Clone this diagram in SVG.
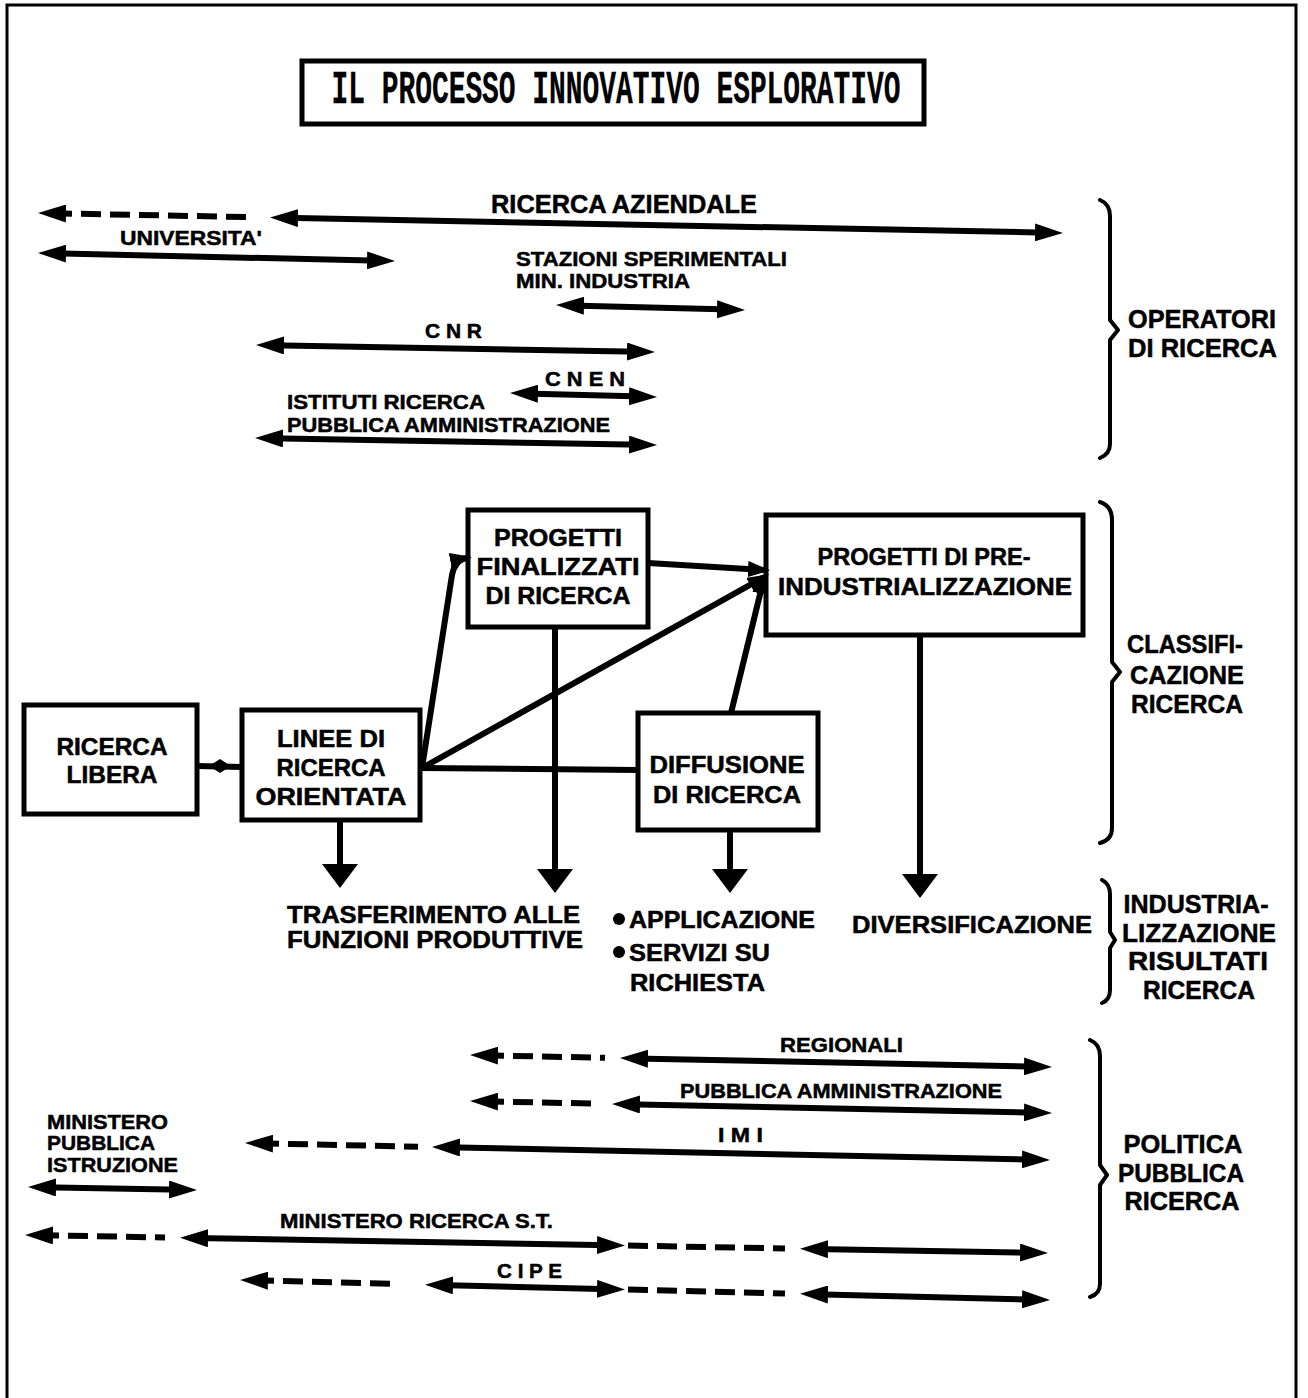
<svg xmlns="http://www.w3.org/2000/svg" width="1308" height="1398" viewBox="0 0 1308 1398">
  <defs>
    <style>
      text { font-family: "Liberation Sans", Arial, sans-serif; font-weight: bold; fill: #000; stroke: #000; stroke-width: 0.5; }
      .t25 { font-size: 25px; }
      .t21 { font-size: 21px; }
      .t23 { font-size: 23px; }
      .t26 { font-size: 26px; }
      .title { font-family: "Liberation Mono", "DejaVu Sans Mono", monospace; font-size: 46px; stroke-width: 0.3; }
      .box { fill: #fff; stroke: #000; stroke-width: 5; }
      .arr { stroke: #000; stroke-width: 6; fill: none; }
      .dash { stroke: #000; stroke-width: 6; fill: none; stroke-dasharray: 20 9; }
      .link { stroke: #000; stroke-width: 6; fill: none; }
      .brace { stroke: #000; stroke-width: 4; fill: none; stroke-linejoin: round; stroke-linecap: round; }
    </style>
    <!-- slim head for the long horizontal range arrows -->
    <marker id="ah" viewBox="0 0 28 18" refX="14" refY="9" markerWidth="28" markerHeight="18" markerUnits="userSpaceOnUse" orient="auto-start-reverse">
      <path d="M0,0 L28,9 L0,18 Z" fill="#000"/>
    </marker>
    <!-- medium head for links between boxes -->
    <marker id="mh" viewBox="0 0 22 16" refX="16" refY="8" markerWidth="22" markerHeight="16" markerUnits="userSpaceOnUse" orient="auto">
      <path d="M0,0 L22,8 L0,16 Z" fill="#000"/>
    </marker>
    <!-- large head for the downward outputs -->
    <marker id="bh" viewBox="0 0 24 36" refX="2" refY="18" markerWidth="24" markerHeight="36" markerUnits="userSpaceOnUse" orient="auto">
      <path d="M0,0 L24,18 L0,36 Z" fill="#000"/>
    </marker>
  </defs>

  <rect width="1308" height="1398" fill="#fff"/>
  <!-- page frame -->
  <path d="M7,1398 V5 H1296 V1398" fill="none" stroke="#000" stroke-width="3"/>

  <g id="title">
    <rect x="302" y="61" width="622" height="63" class="box"/>
    <text class="title" x="616" y="103" text-anchor="middle" textLength="569" lengthAdjust="spacingAndGlyphs">IL PROCESSO INNOVATIVO ESPLORATIVO</text>
  </g>

  <!-- ranges of the research operators -->
  <g id="operatori">
    <text class="t25" x="491" y="213" textLength="266" lengthAdjust="spacingAndGlyphs">RICERCA AZIENDALE</text>
    <text class="t21" x="120" y="245" textLength="142" lengthAdjust="spacingAndGlyphs">UNIVERSITA'</text>
    <text class="t21" x="516" y="266" textLength="271" lengthAdjust="spacingAndGlyphs">STAZIONI SPERIMENTALI</text>
    <text class="t21" x="516" y="288" textLength="174" lengthAdjust="spacingAndGlyphs">MIN. INDUSTRIA</text>
    <text class="t21" x="425" y="338" textLength="57" lengthAdjust="spacingAndGlyphs">C N R</text>
    <text class="t21" x="545" y="386" textLength="80" lengthAdjust="spacingAndGlyphs">C N E N</text>
    <text class="t21" x="287" y="409" textLength="198" lengthAdjust="spacingAndGlyphs">ISTITUTI RICERCA</text>
    <text class="t21" x="287" y="432" textLength="323" lengthAdjust="spacingAndGlyphs">PUBBLICA AMMINISTRAZIONE</text>
  </g>

  <g id="label-operatori">
    <text class="t26" x="1128" y="328" textLength="148" lengthAdjust="spacingAndGlyphs">OPERATORI</text>
    <text class="t26" x="1128" y="357" textLength="149" lengthAdjust="spacingAndGlyphs">DI RICERCA</text>
  </g>

  <!-- classification boxes -->
  <g id="ricerca-libera">
    <rect x="24" y="705" width="173" height="109" class="box"/>
    <text class="t23" x="112" y="755" text-anchor="middle" textLength="111" lengthAdjust="spacingAndGlyphs">RICERCA</text>
    <text class="t23" x="112" y="783" text-anchor="middle" textLength="91" lengthAdjust="spacingAndGlyphs">LIBERA</text>
  </g>
  <g id="linee-ricerca">
    <rect x="242" y="710" width="178" height="110" class="box"/>
    <text class="t23" x="331" y="747" text-anchor="middle" textLength="108" lengthAdjust="spacingAndGlyphs">LINEE DI</text>
    <text class="t23" x="331" y="776" text-anchor="middle" textLength="109" lengthAdjust="spacingAndGlyphs">RICERCA</text>
    <text class="t23" x="331" y="805" text-anchor="middle" textLength="151" lengthAdjust="spacingAndGlyphs">ORIENTATA</text>
  </g>
  <g id="progetti-finalizzati">
    <rect x="468" y="510" width="180" height="117" class="box"/>
    <text class="t23" x="558" y="546" text-anchor="middle" textLength="128" lengthAdjust="spacingAndGlyphs">PROGETTI</text>
    <text class="t23" x="558" y="575" text-anchor="middle" textLength="163" lengthAdjust="spacingAndGlyphs">FINALIZZATI</text>
    <text class="t23" x="558" y="604" text-anchor="middle" textLength="145" lengthAdjust="spacingAndGlyphs">DI RICERCA</text>
  </g>
  <g id="pre-industrializzazione">
    <rect x="766" y="515" width="317" height="120" class="box"/>
    <text class="t23" x="924" y="565" text-anchor="middle" textLength="213" lengthAdjust="spacingAndGlyphs">PROGETTI DI PRE-</text>
    <text class="t23" x="925" y="595" text-anchor="middle" textLength="294" lengthAdjust="spacingAndGlyphs">INDUSTRIALIZZAZIONE</text>
  </g>
  <g id="diffusione">
    <rect x="638" y="713" width="180" height="117" class="box"/>
    <text class="t23" x="727" y="773" text-anchor="middle" textLength="155" lengthAdjust="spacingAndGlyphs">DIFFUSIONE</text>
    <text class="t23" x="727" y="803" text-anchor="middle" textLength="148" lengthAdjust="spacingAndGlyphs">DI RICERCA</text>
  </g>

  <g id="label-classificazione">
    <text class="t26" x="1185" y="653" text-anchor="middle" textLength="116" lengthAdjust="spacingAndGlyphs">CLASSIFI-</text>
    <text class="t26" x="1187" y="684" text-anchor="middle" textLength="114" lengthAdjust="spacingAndGlyphs">CAZIONE</text>
    <text class="t26" x="1187" y="713" text-anchor="middle" textLength="112" lengthAdjust="spacingAndGlyphs">RICERCA</text>
  </g>

  <!-- outputs of the research results -->
  <g id="trasferimento">
    <text class="t23" x="287" y="923" textLength="293" lengthAdjust="spacingAndGlyphs">TRASFERIMENTO ALLE</text>
    <text class="t23" x="287" y="948" textLength="296" lengthAdjust="spacingAndGlyphs">FUNZIONI PRODUTTIVE</text>
  </g>
  <g id="applicazione">
    <circle cx="619" cy="919" r="6" fill="#000"/>
    <text class="t23" x="629" y="928" textLength="186" lengthAdjust="spacingAndGlyphs">APPLICAZIONE</text>
    <circle cx="619" cy="952" r="6" fill="#000"/>
    <text class="t23" x="629" y="961" textLength="141" lengthAdjust="spacingAndGlyphs">SERVIZI SU</text>
    <text class="t23" x="630" y="991" textLength="135" lengthAdjust="spacingAndGlyphs">RICHIESTA</text>
  </g>
  <g id="diversificazione">
    <text class="t23" x="852" y="933" textLength="240" lengthAdjust="spacingAndGlyphs">DIVERSIFICAZIONE</text>
  </g>
  <g id="label-industrializzazione">
    <text class="t26" x="1196" y="913" text-anchor="middle" textLength="145" lengthAdjust="spacingAndGlyphs">INDUSTRIA-</text>
    <text class="t26" x="1199" y="942" text-anchor="middle" textLength="154" lengthAdjust="spacingAndGlyphs">LIZZAZIONE</text>
    <text class="t26" x="1198" y="970" text-anchor="middle" textLength="140" lengthAdjust="spacingAndGlyphs">RISULTATI</text>
    <text class="t26" x="1199" y="999" text-anchor="middle" textLength="112" lengthAdjust="spacingAndGlyphs">RICERCA</text>
  </g>

  <!-- ranges of public research policy -->
  <g id="politica">
    <text class="t21" x="780" y="1052" textLength="123" lengthAdjust="spacingAndGlyphs">REGIONALI</text>
    <text class="t21" x="680" y="1098" textLength="322" lengthAdjust="spacingAndGlyphs">PUBBLICA AMMINISTRAZIONE</text>
    <text class="t21" x="718" y="1142" textLength="45" lengthAdjust="spacingAndGlyphs">I M I</text>
    <text class="t21" x="47" y="1129" textLength="121" lengthAdjust="spacingAndGlyphs">MINISTERO</text>
    <text class="t21" x="47" y="1150" textLength="108" lengthAdjust="spacingAndGlyphs">PUBBLICA</text>
    <text class="t21" x="47" y="1172" textLength="131" lengthAdjust="spacingAndGlyphs">ISTRUZIONE</text>
    <text class="t21" x="280" y="1228" textLength="273" lengthAdjust="spacingAndGlyphs">MINISTERO RICERCA S.T.</text>
    <text class="t21" x="497" y="1278" textLength="65" lengthAdjust="spacingAndGlyphs">C I P E</text>
  </g>
  <g id="label-politica">
    <text class="t26" x="1183" y="1153" text-anchor="middle" textLength="119" lengthAdjust="spacingAndGlyphs">POLITICA</text>
    <text class="t26" x="1181" y="1182" text-anchor="middle" textLength="126" lengthAdjust="spacingAndGlyphs">PUBBLICA</text>
    <text class="t26" x="1182" y="1210" text-anchor="middle" textLength="115" lengthAdjust="spacingAndGlyphs">RICERCA</text>
  </g>

  <g id="connectors">
    <!-- operators -->
    <line class="dash" x1="52" y1="213.3" x2="255" y2="217.2" marker-start="url(#ah)"/>
    <line class="arr" x1="284" y1="217.8" x2="1049" y2="232.7" marker-start="url(#ah)" marker-end="url(#ah)"/>
    <line class="arr" x1="52" y1="253.3" x2="381" y2="260.7" marker-start="url(#ah)" marker-end="url(#ah)"/>
    <line class="arr" x1="570" y1="305.4" x2="731" y2="309.6" marker-start="url(#ah)" marker-end="url(#ah)"/>
    <line class="arr" x1="270" y1="345.2" x2="641" y2="351.8" marker-start="url(#ah)" marker-end="url(#ah)"/>
    <line class="arr" x1="524" y1="393.4" x2="643" y2="396.6" marker-start="url(#ah)" marker-end="url(#ah)"/>
    <line class="arr" x1="269" y1="438.2" x2="643" y2="444.8" marker-start="url(#ah)" marker-end="url(#ah)"/>

    <!-- links between boxes -->
    <line class="link" x1="197" y1="766" x2="242" y2="767"/>
    <path d="M209,766 L220,759 L231,766 L220,773 Z" fill="#000"/>
    <path class="link" d="M422,768 L452,575 Q455,560 466,558" marker-end="url(#mh)"/>
    <line class="link" x1="422" y1="768" x2="764" y2="577" marker-end="url(#mh)"/>
    <line class="link" x1="420" y1="768" x2="638" y2="770"/>
    <line class="link" x1="648" y1="563" x2="764" y2="570" marker-end="url(#mh)"/>
    <line class="link" x1="731" y1="713" x2="764" y2="578" marker-end="url(#mh)"/>

    <!-- downward outputs -->
    <line class="link" x1="340" y1="820" x2="340" y2="866" marker-end="url(#bh)"/>
    <line class="link" x1="555" y1="627" x2="555" y2="871" marker-end="url(#bh)"/>
    <line class="link" x1="730" y1="830" x2="730" y2="871" marker-end="url(#bh)"/>
    <line class="link" x1="920" y1="635" x2="920" y2="876" marker-end="url(#bh)"/>

    <!-- public policy -->
    <line class="dash" x1="484" y1="1055.3" x2="605" y2="1057.8" marker-start="url(#ah)"/>
    <line class="arr" x1="634" y1="1058.4" x2="1038" y2="1066.7" marker-start="url(#ah)" marker-end="url(#ah)"/>
    <line class="dash" x1="484" y1="1101.3" x2="595" y2="1103.6" marker-start="url(#ah)"/>
    <line class="arr" x1="626" y1="1104.2" x2="1038" y2="1112.7" marker-start="url(#ah)" marker-end="url(#ah)"/>
    <line class="dash" x1="259" y1="1143.3" x2="418" y2="1146.7" marker-start="url(#ah)"/>
    <line class="arr" x1="446" y1="1147.2" x2="1036" y2="1159.7" marker-start="url(#ah)" marker-end="url(#ah)"/>
    <line class="arr" x1="42" y1="1187.2" x2="183" y2="1189.8" marker-start="url(#ah)" marker-end="url(#ah)"/>
    <line class="dash" x1="39" y1="1235.2" x2="165" y2="1237.5" marker-start="url(#ah)"/>
    <line class="arr" x1="194" y1="1238" x2="611" y2="1245.3" marker-start="url(#ah)" marker-end="url(#ah)"/>
    <line class="dash" x1="628" y1="1245.6" x2="785" y2="1248.4"/>
    <line class="arr" x1="814" y1="1248.9" x2="1034" y2="1252.8" marker-start="url(#ah)" marker-end="url(#ah)"/>
    <line class="dash" x1="254" y1="1280.3" x2="395" y2="1283.8" marker-start="url(#ah)"/>
    <line class="arr" x1="439" y1="1285" x2="611" y2="1289.2" marker-start="url(#ah)" marker-end="url(#ah)"/>
    <line class="dash" x1="628" y1="1289.6" x2="785" y2="1293.5"/>
    <line class="arr" x1="814" y1="1294.2" x2="1036" y2="1299.7" marker-start="url(#ah)" marker-end="url(#ah)"/>

    <!-- grouping braces -->
    <path class="brace" d="M1100,200 Q1110,204 1110,216 V320 L1118,330 L1110,340 V444 Q1110,454 1100,458"/>
    <path class="brace" d="M1100,502 Q1112,506 1112,520 V662 L1120,672 L1112,682 V828 Q1112,840 1100,843"/>
    <path class="brace" d="M1102,880 Q1110,884 1110,894 V932 L1115,940 L1110,948 V990 Q1110,1000 1102,1003"/>
    <path class="brace" d="M1090,1040 Q1100,1044 1100,1056 V1165 L1107,1175 L1100,1185 V1284 Q1100,1294 1090,1297"/>
  </g>
</svg>
